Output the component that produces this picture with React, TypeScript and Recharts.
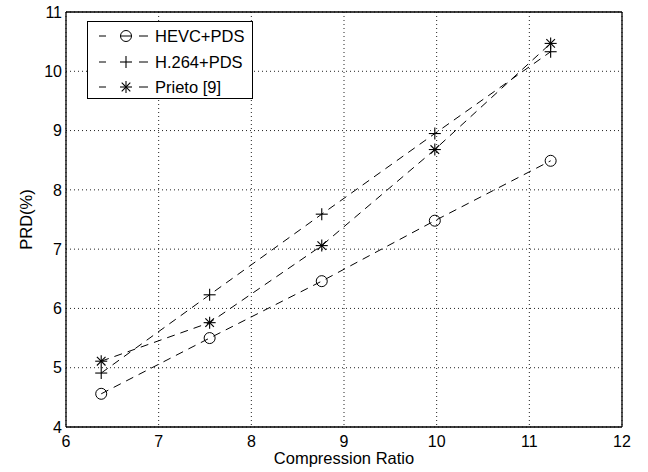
import React from 'react';
import { LineChart, Line, XAxis, YAxis, CartesianGrid, Legend, Label } from 'recharts';

const ratios = [6.38, 7.55, 8.76, 9.98, 11.23];
const hevcPds = [4.56, 5.5, 6.46, 7.48, 8.49];
const h264Pds = [4.91, 6.23, 7.59, 8.95, 10.33];
const prieto = [5.11, 5.76, 7.06, 8.68, 10.47];
const xTicks = [6, 7, 8, 9, 10, 11, 12];
const yTicks = [4, 5, 6, 7, 8, 9, 10, 11];
const seriesNames = ['HEVC+PDS', 'H.264+PDS', 'Prieto [9]'];
const xTitle = 'Compression Ratio';
const yTitle = 'PRD(%)';

const toPoints = (ys: number[]) => ratios.map((x, i) => ({ x, y: ys[i] }));

const FONT = '"Liberation Sans", Arial, Helvetica, sans-serif';
const INK = '#000';

const CircleMark = ({ cx, cy }: { cx: number; cy: number }) => (
  <circle cx={cx} cy={cy} r={5.5} fill="none" stroke={INK} strokeWidth={1} />
);
const PlusMark = ({ cx, cy }: { cx: number; cy: number }) => (
  <g stroke={INK} strokeWidth={1.1}>
    <line x1={cx - 6} y1={cy} x2={cx + 6} y2={cy} />
    <line x1={cx} y1={cy - 6} x2={cx} y2={cy + 6} />
  </g>
);
const StarMark = ({ cx, cy }: { cx: number; cy: number }) => (
  <g stroke={INK} strokeWidth={1.1}>
    <line x1={cx - 6} y1={cy} x2={cx + 6} y2={cy} />
    <line x1={cx} y1={cy - 6} x2={cx} y2={cy + 6} />
    <line x1={cx - 4.3} y1={cy - 4.3} x2={cx + 4.3} y2={cy + 4.3} />
    <line x1={cx - 4.3} y1={cy + 4.3} x2={cx + 4.3} y2={cy - 4.3} />
  </g>
);

const markers = [CircleMark, PlusMark, StarMark];

const makeDot = (k: number) => (props: any) => {
  const M = markers[k];
  if (props.cx == null || props.cy == null) return <g key={`d${k}-${props.index}`} />;
  return (
    <g key={`d${k}-${props.index}`}>
      <M cx={props.cx} cy={props.cy} />
    </g>
  );
};

const LegendBox = () => {
  const rows = [15, 41, 66];
  return (
    <div
      style={{
        width: 166,
        height: 78,
        boxSizing: 'border-box',
        border: '1.3px solid #000',
        background: '#fff',
      }}
    >
      <svg width={164} height={76} style={{ display: 'block', marginLeft: -1, marginTop: -1 }}>
        {seriesNames.map((name, i) => {
          const M = markers[i];
          const y = rows[i];
          return (
            <g key={name}>
              <line x1={12} y1={y} x2={19} y2={y} stroke={INK} strokeWidth={1} />
              {i === 0 && <line x1={33} y1={y} x2={45} y2={y} stroke={INK} strokeWidth={1} />}
              <M cx={39} cy={y} />
              <line x1={52} y1={y} x2={61} y2={y} stroke={INK} strokeWidth={1} />
              <text x={68} y={y} dominantBaseline="central" fontSize={16.5} fill={INK} fontFamily={FONT}>
                {name}
              </text>
            </g>
          );
        })}
      </svg>
    </div>
  );
};

export default function App() {
  const series = [hevcPds, h264Pds, prieto];
  return (
    <div style={{ position: 'absolute', left: 0, top: 0, width: 648, height: 472, background: '#fff', fontFamily: FONT }}>
      <LineChart width={648} height={472} margin={{ top: 12, right: 26, bottom: 0, left: 0 }}>
        <CartesianGrid stroke="#222" strokeDasharray="1 3" strokeWidth={1} />
        <XAxis
          dataKey="x"
          type="number"
          domain={[6, 12]}
          ticks={xTicks}
          allowDataOverflow
          height={45}
          tickLine={false}
          tickSize={0}
          tickMargin={9}
          axisLine={{ stroke: INK, strokeWidth: 1.3 }}
          tick={{ fill: INK, fontSize: 16 }}
        >
          <Label value={xTitle} position="insideBottom" offset={8} fill={INK} fontSize={16.5} />
        </XAxis>
        <XAxis
          xAxisId="top"
          orientation="top"
          mirror
          dataKey="x"
          type="number"
          domain={[6, 12]}
          ticks={xTicks}
          allowDataOverflow
          tick={false}
          tickSize={5}
          tickLine={{ stroke: INK }}
          axisLine={{ stroke: INK, strokeWidth: 1.3 }}
        />
        <XAxis
          xAxisId="bin"
          orientation="bottom"
          mirror
          dataKey="x"
          type="number"
          domain={[6, 12]}
          ticks={xTicks}
          allowDataOverflow
          tick={false}
          tickSize={5}
          tickLine={{ stroke: INK }}
          axisLine={false}
        />
        <YAxis
          type="number"
          domain={[4, 11]}
          ticks={yTicks}
          allowDataOverflow
          width={66}
          tickLine={false}
          tickSize={0}
          tickMargin={4}
          axisLine={{ stroke: INK, strokeWidth: 1.3 }}
          tick={{ fill: INK, fontSize: 16 }}
        >
          <Label value={yTitle} angle={-90} position="center" dx={-7} fill={INK} fontSize={16.5} />
        </YAxis>
        <YAxis
          yAxisId="right"
          orientation="right"
          mirror
          type="number"
          domain={[4, 11]}
          ticks={yTicks}
          allowDataOverflow
          tick={false}
          tickSize={5}
          tickLine={{ stroke: INK }}
          axisLine={{ stroke: INK, strokeWidth: 1.3 }}
        />
        <YAxis
          yAxisId="lin"
          orientation="left"
          mirror
          type="number"
          domain={[4, 11]}
          ticks={yTicks}
          allowDataOverflow
          tick={false}
          tickSize={5}
          tickLine={{ stroke: INK }}
          axisLine={false}
        />
        <Legend
          content={() => <LegendBox />}
          layout="horizontal"
          verticalAlign="middle"
          align="center"
          wrapperStyle={{ left: 87, top: 21, width: 166, height: 78 }}
        />
        {series.map((ys, k) => (
          <Line
            key={seriesNames[k]}
            name={seriesNames[k]}
            data={toPoints(ys)}
            dataKey="y"
            stroke={INK}
            strokeWidth={1}
            strokeDasharray="8 6"
            dot={makeDot(k)}
            activeDot={false}
            isAnimationActive={false}
          />
        ))}
      </LineChart>
    </div>
  );
}
